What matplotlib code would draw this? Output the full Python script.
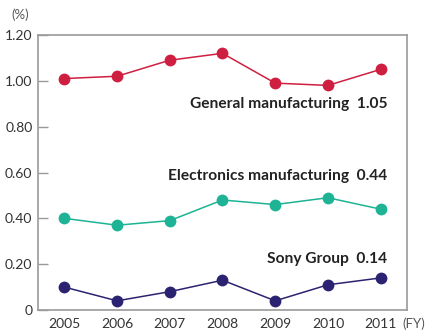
import matplotlib
matplotlib.use("Agg")
import matplotlib.pyplot as plt
from matplotlib.ticker import FixedLocator, FixedFormatter

years = [2005, 2006, 2007, 2008, 2009, 2010, 2011]
general = [1.01, 1.02, 1.09, 1.12, 0.99, 0.98, 1.05]
electronics = [0.40, 0.37, 0.39, 0.48, 0.46, 0.49, 0.44]
sony = [0.10, 0.04, 0.08, 0.13, 0.04, 0.11, 0.14]

y_ticks = [0, 0.2, 0.4, 0.6, 0.8, 1.0, 1.2]
y_tick_labels = ["0", "0.20", "0.40", "0.60", "0.80", "1.00", "1.20"]

series = [
    ("General manufacturing", general, "#cf1f41", 0.90),
    ("Electronics manufacturing", electronics, "#1db394", 0.585),
    ("Sony Group", sony, "#2b2371", 0.222),
]

plt.rcParams["font.family"] = ["Lato", "DejaVu Sans"]

fig = plt.figure(figsize=(4.28, 3.36), dpi=100)
ax = fig.add_axes([38 / 428, 26 / 336, 369 / 428, 275 / 336])

for name, values, color, label_y in series:
    ax.plot(years, values, color=color, lw=1.1, marker="o", ms=8.5,
            markeredgewidth=0, zorder=3)
    ax.text(2011.13, label_y, f"{name}  {values[-1]:.2f}", ha="right",
            va="center", fontsize=11.2, fontweight="bold", color="#222222")

ax.set_xlim(2004.5, 2011.5)
ax.set_ylim(0, 1.2)
ax.xaxis.set_major_locator(FixedLocator(years))
ax.yaxis.set_major_locator(FixedLocator(y_ticks))
ax.yaxis.set_major_formatter(FixedFormatter(y_tick_labels))

for spine in ax.spines.values():
    spine.set_color("#9a9a9a")
    spine.set_linewidth(1.2)

ax.tick_params(axis="y", direction="in", length=7, width=1.0, color="#9a9a9a",
               labelsize=10, labelcolor="#333333", pad=4)
ax.tick_params(axis="x", length=0, labelsize=10, labelcolor="#333333", pad=6)

fig.text(20 / 428, 1 - 15 / 336, "(%)", ha="center", va="center",
         fontsize=9.5, color="#555555")
fig.text(402 / 428, 1 - 324 / 336, "(FY)", ha="left", va="center",
         fontsize=9.5, color="#555555")

fig.savefig("out.png", dpi=100)
